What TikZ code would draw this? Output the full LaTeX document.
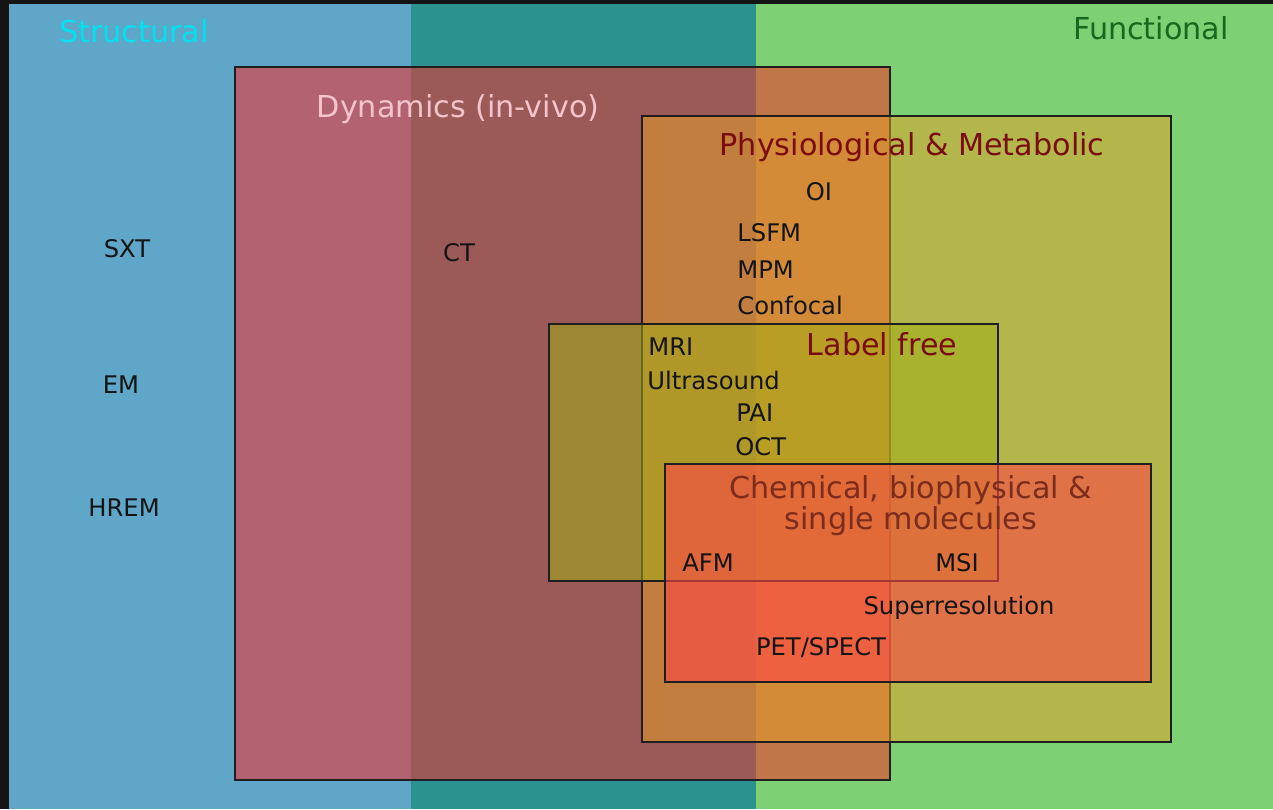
\documentclass[tikz,border=0pt]{standalone}
\usepackage{fontspec}
\setmainfont{DejaVu Sans}
\usetikzlibrary{positioning}

\definecolor{structblue}{RGB}{95,166,200}
\definecolor{overlapteal}{RGB}{43,146,144}
\definecolor{funcgreen}{RGB}{125,208,115}
\definecolor{dynred}{RGB}{251,42,40}
\definecolor{physorange}{RGB}{230,160,40}
\definecolor{freeolive}{RGB}{160,176,20}
\definecolor{chemred}{RGB}{255,70,70}
\definecolor{titlecyan}{RGB}{0,226,240}
\definecolor{titlegreen}{RGB}{24,104,30}
\definecolor{titlered}{RGB}{122,12,12}
\definecolor{titlepink}{RGB}{245,196,204}
\definecolor{titlebrown}{RGB}{124,44,28}

\begin{document}
\begin{tikzpicture}[x=0.02cm, y=-0.02cm,
        box/.style = {draw=black!88, line width=1.1pt, fill=#1, fill opacity=.52},
        title/.style = {font=\fontsize{17.2}{17.6}\selectfont, anchor=mid, yshift=-.08cm},
        tech/.style = {font=\fontsize{13.8}{16}\selectfont, text=black!92, anchor=mid, yshift=-.08cm},
        ]
        \useasboundingbox (0,0) rectangle (1273,809);
        \fill[black!92] (0,0) rectangle (1273,809);
        \fill[structblue] (9,4) rectangle (411,809);
        \fill[overlapteal] (411,4) rectangle (756,809);
        \fill[funcgreen] (756,4) rectangle (1273,809);

        \draw[box=dynred, fill opacity=.54] (235,67) rectangle (890,780);
        \draw[box=physorange] (642,116) rectangle (1171,742);
        \draw[box=freeolive] (549,324) rectangle (998,581);
        \draw[box=chemred, fill opacity=.6] (665,464) rectangle (1151,682);

        \node[title, text=titlecyan] (structural) at (134,34) {Structural};
        \node[title, text=titlegreen] (functional) at (1151,31) {Functional};
        \node[title, text=titlepink] (dynamics) at (458,109) {Dynamics (in-vivo)};
        \node[title, text=titlered] (physio) at (912,147) {Physiological \& Metabolic};
        \node[title, text=titlered] (labelfree) at (882,347) {Label free};
        \node[title, text=titlebrown, align=center, anchor=center, yshift=-.02cm] (chemical) at (911,501)
            {Chemical, biophysical \&\\single molecules};

        \node[tech] (sxt) at (127,249) {SXT};
        \node[tech] (em) at (121,385) {EM};
        \node[tech] (hrem) at (124,508) {HREM};
        \node[tech] (ct) at (459,253) {CT};
        \node[tech] (oi) at (819,192) {OI};
        \node[tech, anchor=mid west, inner xsep=0pt] (lsfm) at (737,233) {LSFM};
        \node[tech, anchor=mid west, inner xsep=0pt] (mpm) at (737,270) {MPM};
        \node[tech, anchor=mid west, inner xsep=0pt] (confocal) at (737,306) {Confocal};
        \node[tech, anchor=mid west, inner xsep=0pt] (mri) at (648,347) {MRI};
        \node[tech, anchor=mid west, inner xsep=0pt] (ultrasound) at (647,381) {Ultrasound};
        \node[tech, anchor=mid west, inner xsep=0pt] (pai) at (736,413) {PAI};
        \node[tech, anchor=mid west, inner xsep=0pt] (oct) at (735,447) {OCT};
        \node[tech] (afm) at (708,563) {AFM};
        \node[tech] (msi) at (957,563) {MSI};
        \node[tech] (superres) at (959,606) {Superresolution};
        \node[tech] (petspect) at (821,647) {PET/SPECT};
    \end{tikzpicture}
\end{document}
